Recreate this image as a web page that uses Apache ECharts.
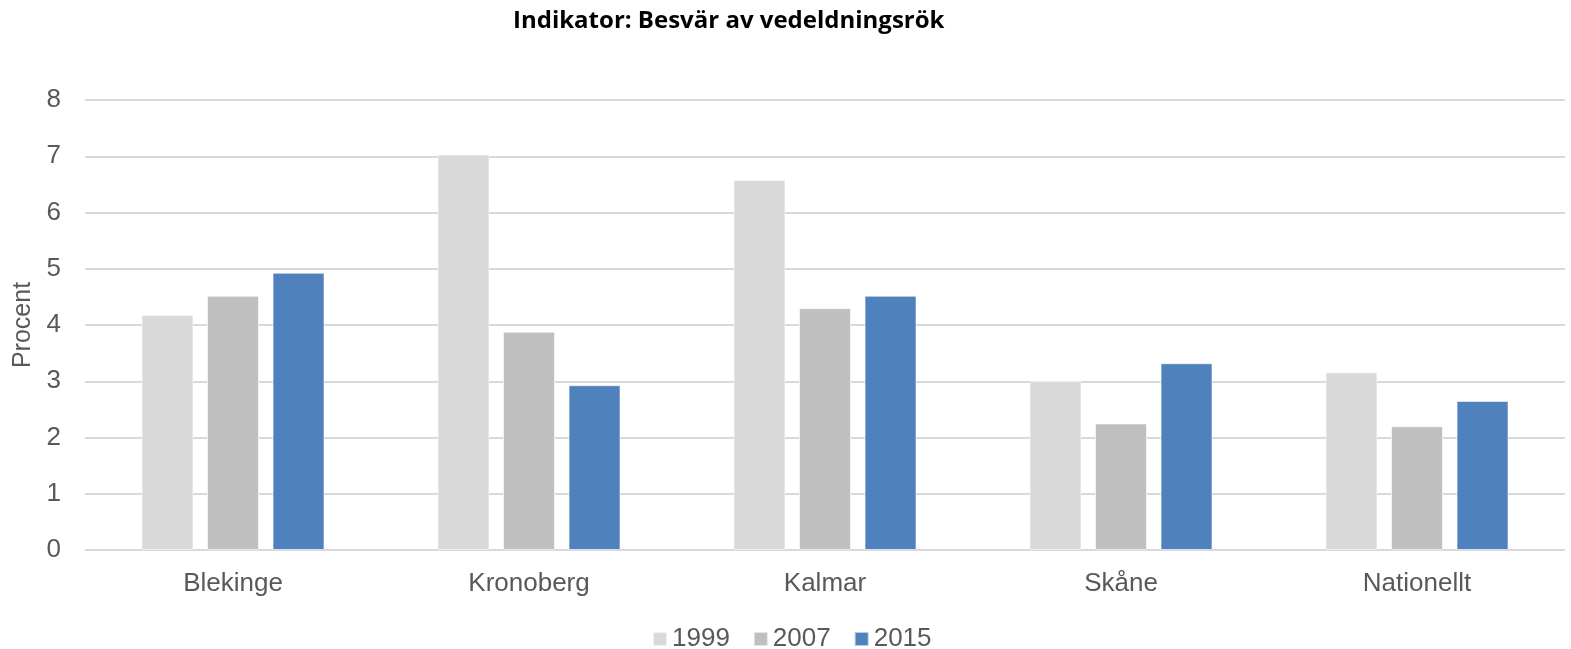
<!DOCTYPE html>
<html>
<head>
<meta charset="utf-8">
<script src="https://cdn.jsdelivr.net/npm/echarts@6/dist/echarts.min.js"></script>
<style>
  html, body { margin: 0; padding: 0; background: #fff; }
  #chart { width: 1571px; height: 649px; }
</style>
</head>
<body>
<div id="chart"></div>
<script>
const categories = ['Blekinge', 'Kronoberg', 'Kalmar', 'Skåne', 'Nationellt']
const years = ['1999', '2007', '2015']
const values1999 = [4.18, 7.03, 6.58, 3.0, 3.16]
const values2007 = [4.52, 3.88, 4.3, 2.25, 2.2]
const values2015 = [4.93, 2.93, 4.52, 3.32, 2.65]
const colors = ['#D9D9D9', '#BFBFBF', '#4F81BD']

const chart = echarts.init(document.getElementById('chart'))
const textColor = '#595959'
const font = 'Liberation Sans, Arial, sans-serif'

chart.setOption({
  animation: false,
  title: {
    text: 'Indikator: Besvär av vedeldningsrök',
    left: 508,
    top: 4,
    textStyle: { fontFamily: 'Open Sans, Noto Sans, sans-serif', fontWeight: 'bold', fontSize: 24, color: '#000' }
  },
  legend: {
    data: years,
    top: 621,
    left: 647,
    itemWidth: 14,
    itemHeight: 14,
    itemGap: 23,
    itemTextGap: 6,
    icon: 'rect',
    textStyle: { fontFamily: font, fontSize: 26, color: textColor }
  },
  grid: { left: 85, right: 6, top: 100, bottom: 99 },
  xAxis: {
    type: 'category',
    data: categories,
    axisLine: { show: false },
    axisTick: { show: false },
    axisLabel: { fontFamily: font, fontSize: 26, color: textColor, margin: 21 }
  },
  yAxis: {
    type: 'value',
    min: 0,
    max: 8,
    interval: 1,
    name: 'Procent',
    nameLocation: 'middle',
    nameGap: 48,
    nameTextStyle: { fontFamily: font, fontSize: 25, color: textColor },
    axisLabel: { fontFamily: font, fontSize: 26, color: textColor, margin: 24 },
    splitLine: { lineStyle: { color: '#D9D9D9', width: 2 } }
  },
  series: [values1999, values2007, values2015].map((d, i) => ({
    name: years[i],
    type: 'bar',
    data: d,
    barWidth: 52,
    barGap: '26%',
    itemStyle: { color: colors[i], borderColor: 'rgba(255,255,255,0.6)', borderWidth: 1 }
  }))
})
</script>
</body>
</html>
